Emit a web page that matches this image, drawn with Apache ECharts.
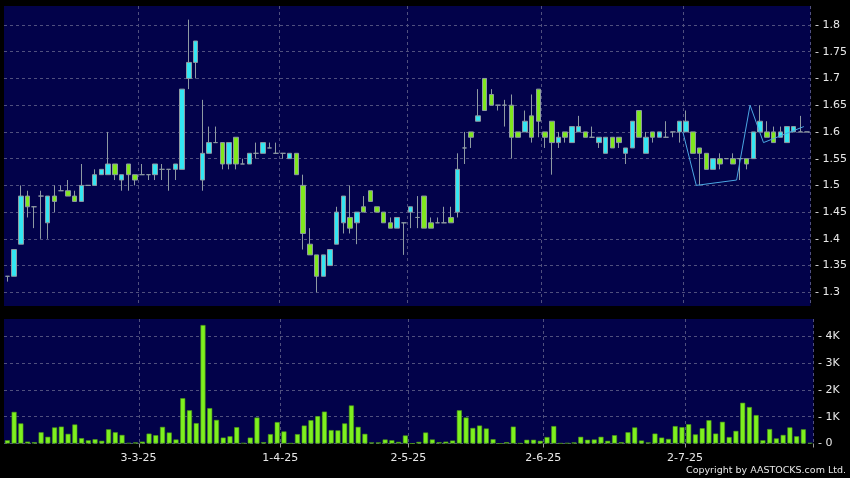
<!DOCTYPE html>
<html><head><meta charset="utf-8">
<script src="https://cdn.jsdelivr.net/npm/echarts@6/dist/echarts.min.js"></script>
<style>html,body{margin:0;padding:0;background:#000;}#c{width:850px;height:478px;}</style>
</head><body><div id="c"></div>
<script>
// HK trading days, Feb 3 2025 .. Jul 28 2025 (day numbers per month)
const febDays=[3,4,5,6,7,10,11,12,13,14,17,18,19,20,21,24,25,26,27,28];
const marDays=[3,4,5,6,7,10,11,12,13,14,17,18,19,20,21,24,25,26,27,28,31];
const aprDays=[1,2,3,7,8,9,10,11,14,15,16,17,22,23,24,25,28,29,30];
const mayDays=[2,6,7,8,9,12,13,14,15,16,19,20,21,22,23,26,27,28,29,30];
const junDays=[2,3,4,5,6,9,10,11,12,13,16,17,18,19,20,23,24,25,26,27,30];
const julDays=[2,3,4,7,8,9,10,11,14,15,16,17,18,21,22,23,24,25,28];
const categories=[].concat(
  febDays.map(d=>d+'-2-25'),marDays.map(d=>d+'-3-25'),aprDays.map(d=>d+'-4-25'),
  mayDays.map(d=>d+'-5-25'),junDays.map(d=>d+'-6-25'),julDays.map(d=>d+'-7-25'));
const labelDates=['3-3-25','1-4-25','2-5-25','2-6-25','2-7-25'];

const opens=[1.33,1.33,1.39,1.48,1.46,1.48,1.43,1.48,1.49,1.49,1.48,1.47,1.50,1.50,1.52,1.52,1.54,1.51,1.54,1.52,
1.52,1.52,1.52,1.53,1.53,1.53,1.53,1.70,1.73,1.51,1.56,1.58,1.58,1.54,1.59,1.54,1.54,1.56,1.56,1.57,
1.56,1.56,1.55,1.56,1.50,1.39,1.37,1.33,1.35,1.39,1.43,1.44,1.43,1.46,1.49,1.46,1.45,1.43,1.42,1.43,
1.45,1.44,1.48,1.43,1.43,1.43,1.44,1.45,1.57,1.60,1.62,1.70,1.67,1.65,1.65,1.65,1.60,1.60,1.63,1.68,
1.60,1.62,1.58,1.60,1.58,1.60,1.60,1.59,1.58,1.56,1.59,1.59,1.56,1.57,1.64,1.56,1.60,1.59,1.59,1.60,
1.60,1.60,1.60,1.57,1.56,1.53,1.55,1.55,1.55,1.55,1.55,1.55,1.60,1.60,1.60,1.59,1.58,1.60,1.60,1.60];
const closes=[1.33,1.38,1.48,1.46,1.46,1.48,1.48,1.47,1.49,1.48,1.47,1.50,1.50,1.52,1.53,1.54,1.52,1.52,1.52,1.51,
1.52,1.52,1.54,1.53,1.53,1.54,1.68,1.73,1.77,1.56,1.58,1.58,1.54,1.58,1.54,1.54,1.56,1.56,1.58,1.57,
1.56,1.56,1.56,1.52,1.41,1.37,1.33,1.37,1.38,1.45,1.48,1.42,1.45,1.45,1.47,1.45,1.43,1.42,1.44,1.43,
1.46,1.44,1.42,1.42,1.43,1.43,1.43,1.53,1.57,1.59,1.63,1.64,1.65,1.65,1.65,1.59,1.59,1.62,1.59,1.62,
1.59,1.58,1.59,1.59,1.61,1.61,1.59,1.59,1.59,1.59,1.57,1.58,1.57,1.62,1.59,1.59,1.59,1.60,1.59,1.60,
1.62,1.62,1.56,1.56,1.53,1.55,1.54,1.55,1.54,1.55,1.54,1.60,1.62,1.59,1.58,1.60,1.61,1.61,1.60,1.60];
const lows=[1.32,1.33,1.39,1.44,1.42,1.40,1.40,1.45,1.49,1.48,1.47,1.47,1.50,1.50,1.52,1.52,1.51,1.49,1.49,1.50,
1.52,1.51,1.51,1.51,1.49,1.51,1.53,1.68,1.70,1.49,1.56,1.58,1.53,1.53,1.53,1.54,1.54,1.55,1.56,1.57,
1.56,1.55,1.55,1.52,1.38,1.37,1.30,1.33,1.35,1.39,1.41,1.41,1.39,1.45,1.47,1.45,1.43,1.42,1.42,1.37,
1.42,1.42,1.42,1.42,1.43,1.43,1.43,1.44,1.54,1.57,1.62,1.64,1.65,1.64,1.61,1.55,1.59,1.60,1.58,1.59,
1.57,1.52,1.57,1.58,1.58,1.60,1.59,1.59,1.57,1.56,1.57,1.57,1.54,1.57,1.59,1.56,1.58,1.59,1.59,1.59,
1.58,1.60,1.56,1.50,1.53,1.53,1.53,1.55,1.54,1.51,1.53,1.55,1.60,1.59,1.58,1.59,1.58,1.60,1.60,1.60];
const highs=[1.33,1.38,1.50,1.49,1.46,1.49,1.48,1.50,1.50,1.51,1.49,1.54,1.50,1.53,1.53,1.60,1.54,1.52,1.54,1.52,
1.54,1.52,1.54,1.54,1.53,1.54,1.68,1.81,1.77,1.66,1.61,1.61,1.58,1.58,1.59,1.55,1.56,1.58,1.58,1.58,
1.58,1.56,1.56,1.56,1.52,1.42,1.37,1.37,1.38,1.46,1.48,1.50,1.45,1.48,1.49,1.46,1.45,1.44,1.44,1.43,
1.46,1.48,1.48,1.44,1.44,1.46,1.46,1.56,1.60,1.60,1.68,1.70,1.68,1.65,1.66,1.67,1.60,1.64,1.67,1.68,
1.60,1.62,1.60,1.60,1.61,1.63,1.60,1.61,1.59,1.59,1.59,1.59,1.57,1.62,1.64,1.60,1.60,1.60,1.62,1.60,
1.62,1.64,1.60,1.57,1.56,1.55,1.56,1.55,1.56,1.55,1.55,1.60,1.65,1.62,1.61,1.61,1.61,1.61,1.63,1.60];
const volumesK=[0.12,1.18,0.75,0.07,0.05,0.42,0.25,0.6,0.63,0.36,0.71,0.2,0.12,0.16,0.1,0.53,0.42,0.32,0.02,0.04,
0.07,0.37,0.31,0.62,0.41,0.15,1.69,1.24,0.76,4.42,1.32,0.88,0.22,0.27,0.61,0.02,0.22,0.97,0.05,0.35,
0.8,0.45,0.01,0.35,0.67,0.87,1.02,1.19,0.5,0.49,0.75,1.42,0.62,0.36,0.04,0.04,0.15,0.12,0.06,0.3,
0,0.06,0.41,0.15,0.05,0.07,0.11,1.24,0.97,0.58,0.67,0.56,0.16,0,0.05,0.63,0.01,0.14,0.14,0.1,
0.24,0.65,0.01,0.02,0.04,0.25,0.14,0.15,0.25,0.1,0.31,0.05,0.42,0.6,0.11,0.04,0.37,0.22,0.17,0.65,
0.61,0.72,0.34,0.57,0.87,0.37,0.81,0.24,0.47,1.52,1.36,1.06,0.12,0.54,0.19,0.32,0.6,0.27,0.53,0.02];
// overlay line (x in category-index units, y price)
const overlayX=[100.5,102.5,108.5,110.5,112.5,118.5];
const overlayY=[1.60,1.50,1.51,1.65,1.58,1.61];
const priceTicks=[1.3,1.35,1.4,1.45,1.5,1.55,1.6,1.65,1.7,1.75,1.8];
const volumeTicks=[0,1,2,3,4];

const FONT='DejaVu Sans';
const TXT='#e8e8e8';
const GRID='#50507e';
const isLabel=(i,v)=>labelDates.indexOf(v)>=0;
const chart=echarts.init(document.getElementById('c'),null,{renderer:'canvas'});
chart.setOption({
  backgroundColor:'#000',
  animation:false,
  grid:[
    {left:4,right:36.5,top:6,height:300,show:true,backgroundColor:'#02024a',borderWidth:0},
    {left:4,right:36.5,top:319,height:124.5,show:true,backgroundColor:'#02024a',borderWidth:0}
  ],
  xAxis:[
    {type:'category',gridIndex:0,data:categories,boundaryGap:true,
     axisLine:{show:false},axisTick:{show:false},axisLabel:{show:false},
     splitLine:{show:true,interval:isLabel,lineStyle:{color:GRID,type:[3,3],width:1}}},
    {type:'category',gridIndex:1,data:categories,boundaryGap:true,
     axisLine:{show:false},
     axisTick:{show:true,interval:isLabel,length:4,lineStyle:{color:'#9a9a9a'}},
     axisLabel:{interval:isLabel,color:TXT,fontFamily:FONT,fontSize:11,margin:9,padding:[0,7.5,0,0]},
     splitLine:{show:true,interval:isLabel,lineStyle:{color:GRID,type:[3,3],width:1}}},
    {type:'value',gridIndex:0,min:-0.5,max:119.5,show:false}
  ],
  yAxis:[
    {type:'value',gridIndex:0,position:'right',min:1.2744,max:1.8355,scale:true,
     axisLine:{show:false},axisTick:{show:false,customValues:priceTicks},
     axisLabel:{customValues:priceTicks,color:TXT,fontFamily:FONT,fontSize:11,margin:4.5,
       formatter:v=>'- '+(+v.toFixed(2))},
     splitLine:{show:true,lineStyle:{color:GRID,type:[3,3],width:1}}},
    {type:'value',gridIndex:1,position:'right',min:0,max:4.646,
     axisLine:{show:false},axisTick:{show:false,customValues:volumeTicks},
     axisLabel:{customValues:volumeTicks,color:TXT,fontFamily:FONT,fontSize:11,margin:4.5,
       formatter:v=>'- '+(v===0?'0':Math.round(v)+'K')},
     splitLine:{show:true,lineStyle:{color:GRID,type:[3,3],width:1}}}
  ],
  series:[
    {type:'candlestick',xAxisIndex:0,yAxisIndex:0,barWidth:5,
     data:categories.map((_,i)=>[opens[i],closes[i],lows[i],highs[i]]),
     itemStyle:{color:'#33e6f2',color0:'#80e81e',borderColor:'#8e9aa2',borderColor0:'#8e9aa2',borderWidth:1}},
    {type:'bar',xAxisIndex:1,yAxisIndex:1,barWidth:5,data:volumesK,
     itemStyle:{color:'#7ef01f',borderColor:'#4e9a16',borderWidth:0.6}},
    {type:'line',xAxisIndex:2,yAxisIndex:0,symbol:'none',
     data:overlayX.map((x,i)=>[x,overlayY[i]]),
     lineStyle:{color:'#4aa6e2',width:1}}
  ],
  graphic:[{type:'text',right:4,top:466,style:{text:'Copyright by AASTOCKS.com Ltd.',fill:TXT,font:'9.5px "DejaVu Sans"'}}]
});
</script></body></html>
